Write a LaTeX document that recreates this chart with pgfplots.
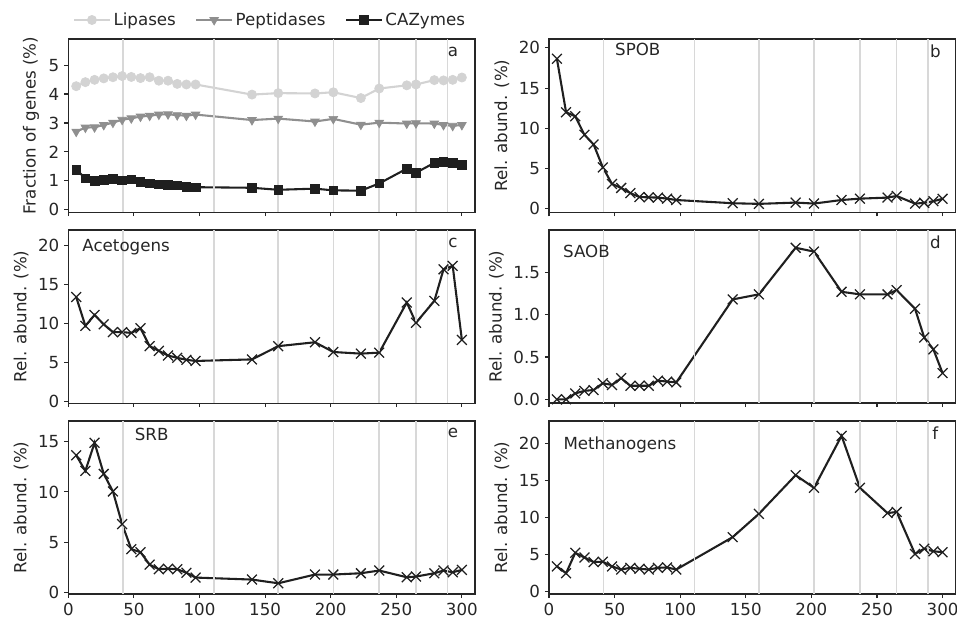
\documentclass[border=0pt]{standalone}
\usepackage{fontspec}
\setmainfont{DejaVu Sans}
\usepackage{pgfplots}
\pgfplotsset{compat=1.18}
\definecolor{lip}{HTML}{D3D3D3}
\definecolor{pep}{HTML}{8F8F8F}
\definecolor{caz}{HTML}{1F1F1F}
\definecolor{vl}{HTML}{D8D8D8}
\definecolor{txt}{HTML}{262626}
\newcommand{\fs}{\fontsize{12}{14}\selectfont}
\pgfplotsset{
  base/.style={
    width=292.8pt, height=124.6pt, scale only axis,
    xmin=0, xmax=310, xtick={0,50,...,300},
    tick pos=left, tick align=outside, major tick length=3pt,
    axis line style={draw=txt, line width=0.8pt},
    tick style={draw=txt, line width=0.8pt},
    tick label style={font=\fs, text=txt},
    label style={font=\fs, text=txt},
    /pgf/number format/assume math mode=true,
    every axis plot/.append style={line width=1.5pt},
    ylabel={Rel. abund. (\%)},
  },
  notx/.style={xticklabels=\empty},
  ser/.style={color=caz, mark=x, mark size=5pt, mark options={solid, line width=0.9pt}},
}
\newcommand{\vlines}{%
  \pgfplotsinvokeforeach{41.5,111,160,202,237,265,289}{%
    \draw[vl, line width=1.1pt] ({axis cs:##1,0} |- {rel axis cs:0,0}) -- ({axis cs:##1,0} |- {rel axis cs:0,1});}}
\newcommand{\plab}[3]{\node[font=\fs, text=txt, inner sep=0pt, anchor=#3] at (rel axis cs:#1) {#2};}
\begin{document}
\begin{tikzpicture}
\useasboundingbox (0,0) rectangle (689.04pt,-447.12pt);
% ---------- a
\begin{axis}[base, notx, at={(49.2pt,-28.1pt)}, anchor=north west,
  ymin=-0.08, ymax=5.9, ytick={0,1,2,3,4,5}, ylabel={Fraction of genes (\%)},
  legend columns=3,
  legend style={draw=none, fill=none, font=\fs, text=txt, at={(0.497,1.11)}, anchor=center,
    /tikz/every even column/.append style={column sep=12pt}},
  legend image code/.code={\draw[mark repeat=2,mark phase=2] plot coordinates {(0cm,0cm)(0.45cm,0cm)(0.9cm,0cm)};}]
\addplot[color=lip, mark=*, mark size=3.3pt, mark options={solid, line width=0.5pt}] coordinates {
(6,4.27)(13,4.41)(20,4.49)(27,4.54)(34,4.58)(41,4.62)(48,4.59)(55,4.55)(62,4.58)(69,4.46)(76,4.46)(83,4.35)(90,4.33)(97,4.33)
(140,3.98)(160,4.03)(188,4.02)(202,4.06)(223,3.86)(237,4.19)(258,4.30)(265,4.33)(279,4.48)(286,4.47)(293,4.49)(300,4.57)};
\addlegendentry{Lipases}
\addplot[color=pep, mark=triangle*, mark size=3.6pt, mark options={solid, rotate=180, line width=0.5pt}] coordinates {
(6,2.70)(13,2.84)(20,2.85)(27,2.93)(34,3.01)(41,3.11)(48,3.16)(55,3.22)(62,3.25)(69,3.29)(76,3.30)(83,3.27)(90,3.25)(97,3.29)
(140,3.10)(160,3.15)(188,3.05)(202,3.14)(223,2.94)(237,3.01)(258,2.98)(265,2.99)(279,2.98)(286,2.93)(293,2.90)(300,2.93)};
\addlegendentry{Peptidases}
\addplot[color=caz, mark=square*, mark size=3.1pt, mark options={solid, line width=0.5pt}] coordinates {
(6,1.39)(13,1.09)(20,1.00)(27,1.03)(34,1.07)(41,1.01)(48,1.05)(55,0.96)(62,0.91)(69,0.88)(76,0.86)(83,0.84)(90,0.80)(97,0.78)
(140,0.76)(160,0.69)(188,0.73)(202,0.67)(223,0.66)(237,0.91)(258,1.42)(265,1.28)(279,1.62)(286,1.65)(293,1.62)(300,1.56)};
\addlegendentry{CAZymes}
\vlines
\plab{0.946,0.928}{a}{center}
\end{axis}
% ---------- b
\begin{axis}[base, notx, at={(395.3pt,-28.1pt)}, anchor=north west,
  ymin=-0.4, ymax=21.1, ytick={0,5,10,15,20}]
\addplot[ser] coordinates {
(6,18.65)(13,12.0)(20,11.5)(27,9.2)(34,8.0)(41,5.15)(48,3.1)(55,2.6)(62,1.96)(69,1.47)(76,1.43)(83,1.4)(90,1.27)(97,1.1)
(140,0.7)(160,0.62)(188,0.78)(202,0.66)(223,1.1)(237,1.27)(258,1.4)(265,1.6)(279,0.65)(286,0.75)(293,0.95)(300,1.25)};
\vlines
\plab{0.162,0.937}{SPOB}{west}
\plab{0.95,0.928}{b}{center}
\end{axis}
% ---------- c
\begin{axis}[base, notx, at={(49.2pt,-165.6pt)}, anchor=north west,
  ymin=-0.2, ymax=22.0, ytick={0,5,10,15,20}]
\addplot[ser] coordinates {
(6,13.4)(13,9.7)(20,11.1)(27,9.9)(34,8.9)(41,8.9)(48,8.8)(55,9.4)(62,7.1)(69,6.5)(76,5.9)(83,5.6)(90,5.35)(97,5.2)
(140,5.4)(160,7.1)(188,7.6)(202,6.35)(223,6.14)(237,6.27)(258,12.7)(265,10.1)(279,12.9)(286,16.95)(293,17.4)(300,7.9)};
\vlines
\plab{0.034,0.898}{Acetogens}{west}
\plab{0.946,0.928}{c}{center}
\end{axis}
% ---------- d
\begin{axis}[base, notx, at={(395.3pt,-165.6pt)}, anchor=north west,
  ymin=-0.044, ymax=2.0, ytick={0,0.5,1.0,1.5},
  yticklabel style={/pgf/number format/.cd, fixed, fixed zerofill, precision=1}]
\addplot[ser] coordinates {
(6,0.0)(13,0.0)(20,0.07)(27,0.1)(34,0.11)(41,0.19)(48,0.17)(55,0.25)(62,0.16)(69,0.16)(76,0.16)(83,0.22)(90,0.21)(97,0.2)
(140,1.18)(160,1.24)(188,1.79)(202,1.745)(223,1.27)(237,1.24)(258,1.24)(265,1.29)(279,1.07)(286,0.73)(293,0.59)(300,0.31)};
\vlines
\plab{0.034,0.878}{SAOB}{west}
\plab{0.95,0.928}{d}{center}
\end{axis}
% ---------- e
\begin{axis}[base, at={(49.2pt,-303.1pt)}, anchor=north west,
  ymin=-0.17, ymax=17.07, ytick={0,5,10,15}]
\addplot[ser] coordinates {
(6,13.65)(13,12.1)(20,14.9)(27,11.8)(34,10.05)(41,6.8)(48,4.3)(55,4.0)(62,2.76)(69,2.3)(76,2.35)(83,2.3)(90,1.95)(97,1.47)
(140,1.27)(160,0.9)(188,1.77)(202,1.77)(223,1.9)(237,2.17)(258,1.5)(265,1.57)(279,1.9)(286,2.17)(293,2.0)(300,2.23)};
\vlines
\plab{0.163,0.925}{SRB}{west}
\plab{0.946,0.928}{e}{center}
\end{axis}
% ---------- f
\begin{axis}[base, at={(395.3pt,-303.1pt)}, anchor=north west,
  ymin=-0.3, ymax=23.0, ytick={0,5,10,15,20}]
\addplot[ser] coordinates {
(6,3.42)(13,2.5)(20,5.25)(27,4.62)(34,4.0)(41,4.05)(48,3.42)(55,3.0)(62,3.23)(69,3.1)(76,3.0)(83,3.23)(90,3.28)(97,3.0)
(140,7.36)(160,10.5)(188,15.7)(202,14.0)(223,21.0)(237,14.0)(258,10.6)(265,10.75)(279,5.1)(286,5.8)(293,5.46)(300,5.33)};
\vlines
\plab{0.035,0.861}{Methanogens}{west}
\plab{0.95,0.928}{f}{center}
\end{axis}
\end{tikzpicture}
\end{document}
